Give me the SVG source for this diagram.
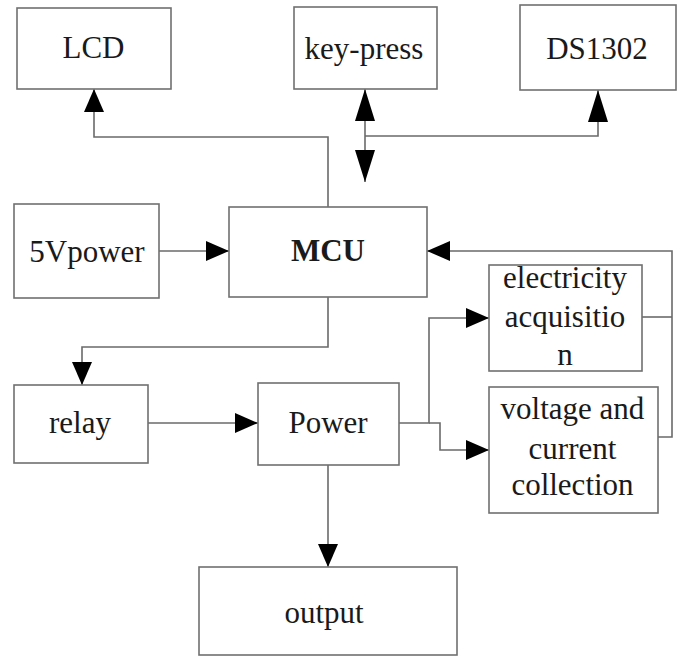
<svg xmlns="http://www.w3.org/2000/svg" width="680" height="657" viewBox="0 0 680 657">
<style>
.box{fill:#fff;stroke:#707070;stroke-width:1.6}
.ln{fill:none;stroke:#6a6a6a;stroke-width:1.6}
.t{font-family:"Liberation Serif","Times New Roman",serif;font-size:31px;fill:#1a1a1a;text-anchor:middle}
.b{font-weight:bold}
</style>
<defs>
<marker id="ah" markerWidth="23" markerHeight="20" refX="23" refY="10" orient="auto-start-reverse" markerUnits="userSpaceOnUse"><path d="M0,0 L23,10 L0,20 Z" fill="#000"/></marker>
<marker id="ahl" markerWidth="32" markerHeight="20" refX="32" refY="10" orient="auto-start-reverse" markerUnits="userSpaceOnUse"><path d="M0,0 L32,10 L0,20 Z" fill="#000"/></marker>
</defs>
<rect width="680" height="657" fill="#fff"/>
<g id="connectors">
<path class="ln" d="M328,207 V137 H94 V89" marker-end="url(#ah)"/>
<path class="ln" d="M365,182 V89" marker-start="url(#ahl)" marker-end="url(#ahl)"/>
<path class="ln" d="M365,136 H598 V90" marker-end="url(#ahl)"/>
<path class="ln" d="M159,251 H229" marker-end="url(#ah)"/>
<path class="ln" d="M328,297 V347 H82 V385" marker-end="url(#ah)"/>
<path class="ln" d="M148,423 H258" marker-end="url(#ah)"/>
<path class="ln" d="M328,465 V567" marker-end="url(#ah)"/>
<path class="ln" d="M399,423 H429 V318 H489" marker-end="url(#ah)"/>
<path class="ln" d="M429,423 H440 V450 H489" marker-end="url(#ah)"/>
<path class="ln" d="M658,437 H672 V251 H427" marker-end="url(#ah)"/>
<path class="ln" d="M642,317 H672"/>
</g>
<g id="lcd"><rect class="box" x="17" y="8" width="154" height="81"/><text class="t" x="93.5" y="58">LCD</text></g>
<g id="keypress"><rect class="box" x="294" y="7" width="143" height="82"/><text class="t" x="364" y="59">key-press</text></g>
<g id="ds1302"><rect class="box" x="520" y="5" width="156" height="85"/><text class="t" x="597" y="59">DS1302</text></g>
<g id="power5v"><rect class="box" x="14" y="204" width="145" height="94"/><text class="t" x="87" y="262">5Vpower</text></g>
<g id="mcu"><rect class="box" x="229" y="207" width="198" height="90"/><text class="t b" x="328" y="261">MCU</text></g>
<g id="electricity"><rect class="box" x="489" y="265" width="153" height="106"/>
<text class="t" x="565" y="288">electricity</text>
<text class="t" x="565" y="327">acquisitio</text>
<text class="t" x="565" y="365">n</text></g>
<g id="relay"><rect class="box" x="14" y="385" width="134" height="78"/><text class="t" x="80" y="433">relay</text></g>
<g id="power"><rect class="box" x="258" y="383" width="141" height="82"/><text class="t" x="328" y="433">Power</text></g>
<g id="voltage"><rect class="box" x="489" y="387" width="169" height="126"/>
<text class="t" x="572.5" y="419">voltage and</text>
<text class="t" x="572.5" y="459">current</text>
<text class="t" x="572.5" y="495">collection</text></g>
<g id="output"><rect class="box" x="199" y="567" width="258" height="88"/><text class="t" x="324" y="623">output</text></g>
</svg>
